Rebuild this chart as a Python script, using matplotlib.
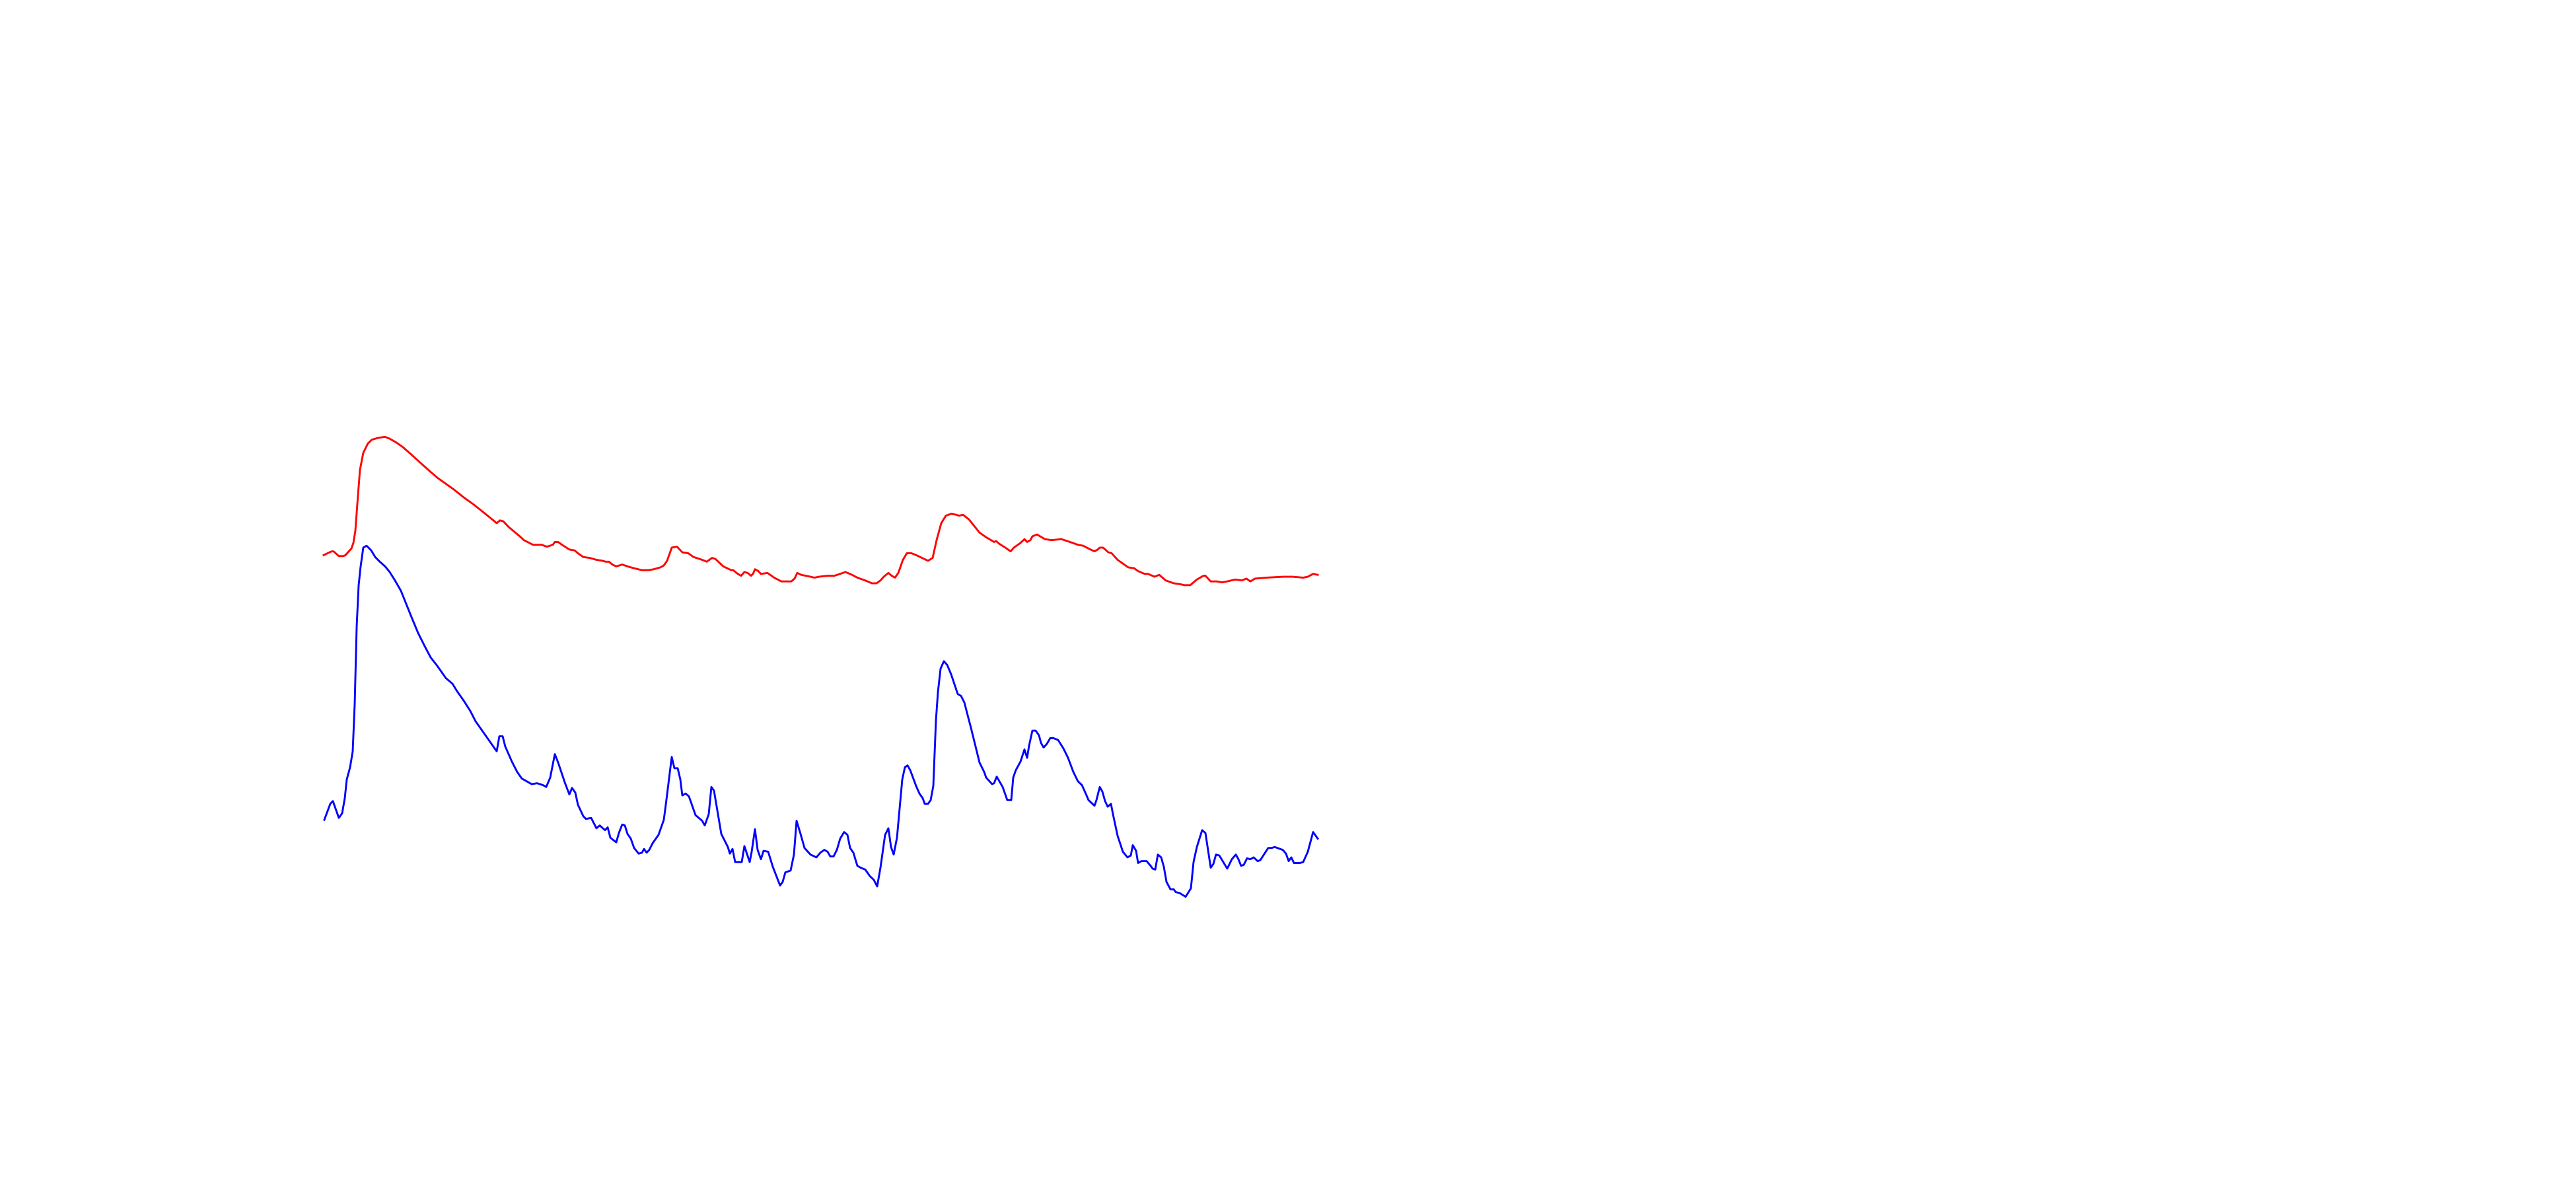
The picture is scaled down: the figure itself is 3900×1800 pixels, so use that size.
import numpy as np
import matplotlib.pyplot as plt

# red trace
red_x = [0, 12, 15, 23, 30, 33, 42, 45, 48, 52, 55, 60, 67, 73, 83, 93, 100, 110, 120, 133,
         147, 163, 173, 187, 197, 213, 227, 243, 257, 262, 267, 272, 280, 297, 303, 317, 330, 338, 347, 350,
         355, 363, 372, 380, 385, 393, 403, 413, 422, 427, 432, 437, 443, 452, 460, 470, 482, 487, 492, 500,
         510, 515, 520, 527, 535, 543, 552, 560, 573, 580, 588, 593, 605, 617, 620, 627, 632, 637, 642, 647,
         650, 653, 658, 662, 672, 682, 693, 708, 713, 717, 723, 737, 743, 750, 763, 773, 782, 790, 800, 808,
         820, 830, 837, 843, 848, 855, 860, 865, 870, 877, 883, 890, 897, 903, 915, 922, 928, 935, 942, 950,
         958, 962, 968, 977, 985, 993, 1003, 1008, 1015, 1018, 1023, 1032, 1040, 1045, 1055, 1061, 1065, 1070, 1073, 1080,
         1092, 1102, 1117, 1130, 1142, 1150, 1158, 1167, 1172, 1175, 1180, 1188, 1193, 1202, 1210, 1218, 1227, 1233, 1243, 1248,
         1258, 1265, 1275, 1287, 1297, 1303, 1312, 1322, 1332, 1335, 1343, 1352, 1360, 1368, 1380, 1390, 1397, 1403, 1410, 1427,
         1453, 1467, 1483, 1490, 1498, 1505]
red_y = [419, 423, 423, 418, 418, 419, 426, 432, 445, 483, 510, 528, 538, 542, 544, 545, 543, 539, 534, 526,
         517, 507, 501, 494, 489, 480, 473, 464, 456, 453, 456, 455, 449, 439, 435, 430, 430, 428, 430, 433,
         433, 429, 425, 424, 421, 417, 416, 414, 413, 412, 412, 409, 407, 409, 407, 405, 403, 403, 403, 404,
         406, 408, 413, 427, 428, 422, 421, 417, 414, 412, 416, 415, 407, 403, 403, 399, 397, 401, 400, 397,
         399, 404, 402, 399, 400, 395, 391, 391, 394, 400, 398, 396, 395, 396, 397, 397, 399, 401, 398, 395,
         392, 389, 389, 392, 396, 400, 397, 395, 400, 414, 421, 421, 419, 417, 413, 416, 435, 453, 461, 463,
         462, 461, 462, 457, 450, 443, 438, 436, 433, 434, 431, 427, 423, 427, 432, 436, 433, 435, 439, 441,
         436, 435, 436, 433, 430, 429, 426, 423, 425, 427, 427, 422, 421, 414, 410, 406, 405, 402, 399, 399,
         396, 398, 392, 389, 388, 387, 387, 393, 397, 397, 391, 391, 390, 391, 393, 392, 394, 391, 394, 395,
         396, 396, 395, 396, 399, 398]

# blue trace
blue_x = [1, 10, 14, 23, 28, 32, 35, 40, 44, 47, 50, 53, 56, 60, 65, 72, 78, 85, 93, 100,
          108, 117, 125, 133, 143, 153, 162, 172, 185, 195, 202, 212, 222, 230, 238, 247, 255, 262, 266, 271,
          275, 285, 293, 300, 315, 323, 332, 337, 343, 350, 355, 365, 372, 376, 381, 385, 393, 397, 405, 413,
          418, 426, 430, 434, 443, 447, 452, 456, 460, 465, 470, 477, 482, 485, 489, 493, 498, 507, 515, 518,
          527, 531, 536, 540, 543, 548, 553, 563, 573, 577, 583, 587, 591, 602, 612, 615, 619, 623, 633, 637,
          645, 648, 653, 657, 662, 666, 673, 680, 691, 695, 699, 707, 712, 716, 722, 728, 737, 746, 752, 758,
          763, 767, 772, 777, 782, 788, 793, 797, 802, 808, 813, 820, 827, 833, 838, 843, 850, 855, 859, 863,
          868, 876, 880, 884, 888, 897, 902, 907, 910, 915, 919, 923, 927, 930, 934, 939, 944, 950, 960, 965,
          970, 980, 993, 1000, 1003, 1012, 1015, 1019, 1028, 1035, 1041, 1044, 1048, 1055, 1061, 1065, 1068, 1073, 1078, 1083,
          1086, 1090, 1095, 1100, 1105, 1112, 1120, 1127, 1135, 1142, 1148, 1155, 1158, 1167, 1170, 1175, 1179, 1183, 1187, 1192,
          1195, 1202, 1210, 1217, 1222, 1225, 1230, 1233, 1238, 1246, 1252, 1255, 1259, 1263, 1268, 1272, 1276, 1282, 1287, 1290,
          1296, 1305, 1313, 1317, 1322, 1330, 1335, 1343, 1347, 1351, 1356, 1368, 1375, 1381, 1385, 1389, 1393, 1398, 1403, 1408,
          1414, 1418, 1430, 1435, 1440, 1452, 1457, 1461, 1465, 1469, 1478, 1483, 1490, 1498, 1505]
blue_y = [137, 154, 157, 139, 144, 160, 180, 193, 210, 260, 343, 387, 407, 427, 429, 424, 417, 412, 407, 401,
          392, 381, 367, 353, 336, 322, 310, 301, 288, 282, 274, 264, 253, 242, 234, 225, 217, 210, 226, 226,
          215, 199, 188, 181, 175, 176, 174, 172, 182, 207, 198, 177, 164, 171, 166, 153, 141, 138, 139, 128,
          131, 126, 129, 118, 113, 123, 132, 131, 122, 117, 107, 101, 102, 106, 102, 105, 112, 121, 137, 153,
          204, 192, 192, 180, 163, 165, 162, 142, 136, 131, 143, 172, 168, 122, 108, 101, 106, 92, 92, 109,
          92, 103, 127, 105, 95, 104, 103, 87, 67, 71, 81, 83, 100, 136, 122, 107, 100, 97, 102, 105,
          103, 98, 98, 105, 117, 124, 121, 107, 102, 88, 86, 84, 77, 73, 66, 86, 121, 128, 108, 100,
          118, 180, 193, 195, 190, 173, 165, 160, 154, 154, 158, 173, 243, 273, 298, 306, 302, 292, 271, 269,
          262, 235, 198, 188, 182, 175, 176, 183, 172, 158, 158, 182, 190, 199, 212, 203, 216, 232, 232, 227,
          219, 214, 218, 224, 224, 222, 213, 203, 188, 178, 174, 163, 158, 152, 158, 172, 167, 157, 151, 154,
          143, 120, 103, 97, 99, 110, 104, 91, 93, 93, 88, 85, 84, 100, 97, 87, 71, 63, 63, 60,
          59, 55, 64, 92, 108, 126, 123, 86, 90, 100, 99, 85, 95, 100, 95, 88, 89, 96, 95, 97,
          93, 94, 107, 107, 108, 105, 101, 93, 97, 91, 91, 92, 103, 124, 117]

fig = plt.figure(figsize=(13, 6), dpi=300)
ax = fig.add_axes([0, 0, 1, 1])
ax.plot(red_x, red_y, color='red', linewidth=0.7)
ax.plot(blue_x, blue_y, color='blue', linewidth=0.7)
ax.set_xlim(-490, 3410)
ax.set_ylim(-256.3, 1010.4)
ax.axis('off')

plt.savefig('out.png', dpi=300)
